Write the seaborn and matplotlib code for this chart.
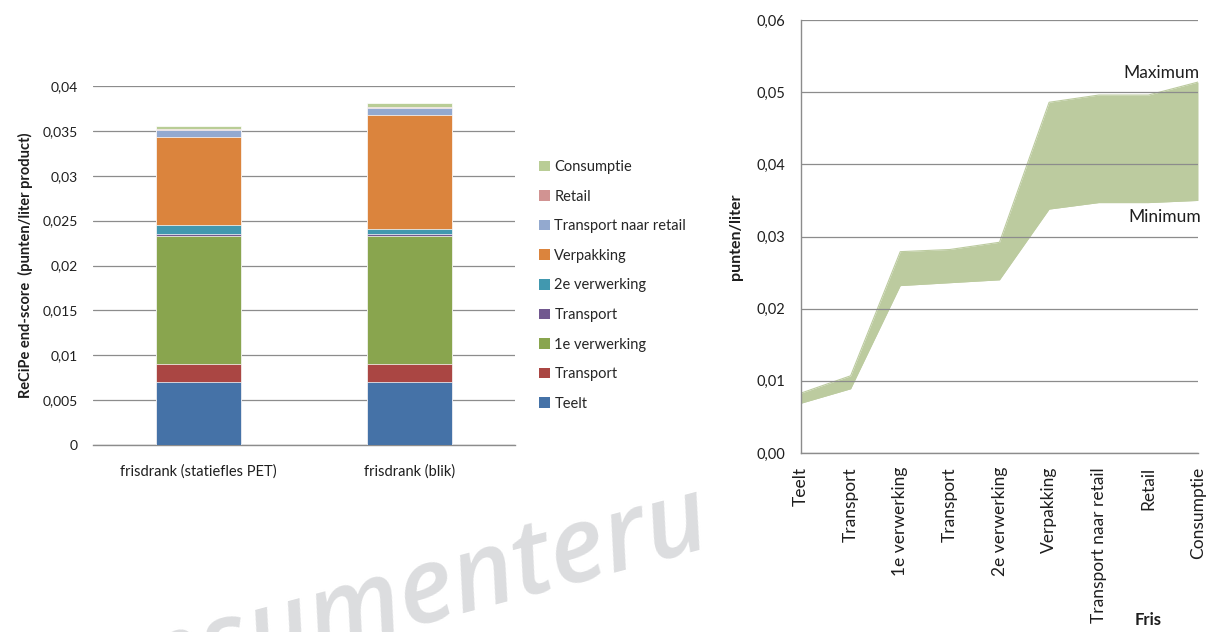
import numpy as np
import pandas as pd
import matplotlib
matplotlib.use("Agg")
import matplotlib.pyplot as plt
from matplotlib.patches import Patch
import seaborn as sns

# ---------------- data ----------------
products = ["frisdrank (statiefles PET)", "frisdrank (blik)"]
stage_labels = ["Teelt", "Transport", "1e verwerking", "Transport", "2e verwerking",
                "Verpakking", "Transport naar retail", "Retail", "Consumptie"]
teelt = [0.0070, 0.0070]
transport_1 = [0.0020, 0.0020]
verwerking_1 = [0.0143, 0.0143]
transport_2 = [0.00025, 0.00025]
verwerking_2 = [0.0010, 0.0005]
verpakking = [0.0098, 0.0127]
transport_retail = [0.00074, 0.00085]
retail = [0.0001, 0.0001]
consumptie = [0.0004, 0.0004]
stage_colors = ["#4572A7", "#AA4643", "#89A54E", "#71588F", "#4198AF",
                "#DB843D", "#93A9CF", "#D19392", "#B9CD96"]

fris_stages = ["Teelt", "Transport", "1e verwerking", "Transport", "2e verwerking",
               "Verpakking", "Transport naar retail", "Retail", "Consumptie"]
fris_min = [0.0069, 0.0089, 0.0232, 0.0236, 0.0240, 0.0338, 0.0347, 0.0347, 0.0350]
fris_max = [0.0083, 0.0107, 0.0279, 0.0282, 0.0292, 0.0486, 0.0496, 0.0496, 0.0514]

# ---------------- style ----------------
sns.set_theme(style="white")
plt.rcParams["font.family"] = ["Lato", "DejaVu Sans"]
W, H = 1209, 632
fig = plt.figure(figsize=(W / 100, H / 100), dpi=100)
fig.patch.set_facecolor("white")

def fx(px):
    return px / W

def fy(py):
    return 1 - py / H

# watermark
fig.text(fx(45), fy(724), "consumenteru", rotation=15, rotation_mode="anchor",
         ha="left", va="baseline", fontsize=76, color="#DCDDDF", style="italic",
         fontweight="semibold", family=["Open Sans", "DejaVu Sans"], zorder=0)

grid_c = "#8C8C8C"
axis_c = "#8C8C8C"
txt_c = "#1E1E1E"

# ---------------- left: stacked bars ----------------
ax1 = fig.add_axes([fx(93), fy(445), fx(515 - 93), (445 - 86) / H])
ax1.set_facecolor("none")
layers = [teelt, transport_1, verwerking_1, transport_2, verwerking_2,
          verpakking, transport_retail, retail, consumptie]
cum = np.cumsum(np.array(layers), axis=0)
for i in range(len(layers) - 1, -1, -1):
    df = pd.DataFrame({"product": products, "value": cum[i]})
    sns.barplot(data=df, x="product", y="value", order=products, color=stage_colors[i],
                saturation=1, width=0.4, edgecolor="white", linewidth=0.5, ax=ax1, zorder=3)

ax1.set_ylim(0, 0.04)
ax1.set_xlim(-0.5, 1.5)
yt = np.arange(0, 0.0401, 0.005)
ax1.set_yticks(yt)
ax1.set_yticklabels(["0" if v == 0 else f"{v:.3f}".rstrip("0").replace(".", ",") for v in yt],
                    fontsize=10, color=txt_c)
ax1.yaxis.grid(True, color=grid_c, linewidth=0.9)
ax1.set_axisbelow(True)
for s in ["top", "right", "left"]:
    ax1.spines[s].set_visible(False)
ax1.spines["bottom"].set_color(axis_c)
ax1.spines["bottom"].set_linewidth(1.0)
ax1.tick_params(axis="y", which="major", length=5, width=1, color=axis_c, direction="out", pad=6)
ax1.set_xticks([0, 1])
ax1.set_xticklabels(products, fontsize=10.5, color=txt_c)
ax1.set_xticks([-0.5, 0.5, 1.5], minor=True)
ax1.tick_params(axis="x", which="major", length=0, pad=14)
ax1.tick_params(axis="x", which="minor", length=5, width=1, color=axis_c, direction="out")
ax1.set_xlabel("")
ax1.set_ylabel("ReCiPe end-score  (punten/liter product)", fontsize=10.5, fontweight="bold",
               color=txt_c, labelpad=7)

handles = [Patch(facecolor=stage_colors[i], edgecolor="none") for i in range(8, -1, -1)]
labels = [stage_labels[i] for i in range(8, -1, -1)]
ax1.legend(handles, labels, loc="upper left", bbox_to_anchor=(fx(539), fy(160)),
           bbox_transform=fig.transFigure, frameon=False, fontsize=10.5,
           handlelength=0.75, handleheight=0.75, handletextpad=0.3, labelspacing=1.07,
           borderpad=0, borderaxespad=0)

# ---------------- right: range area ----------------
ax2 = fig.add_axes([fx(801), fy(453), fx(1198 - 801), (453 - 20) / H])
ax2.set_facecolor("none")
xpos = np.arange(len(fris_stages))
band = "#BCCB9F"
ax2.fill_between(xpos, fris_min, fris_max, color=band, linewidth=0, zorder=2)
sns.lineplot(x=xpos, y=fris_max, color=band, linewidth=0.8, ax=ax2, zorder=2)
sns.lineplot(x=xpos, y=fris_min, color=band, linewidth=0.8, ax=ax2, zorder=2)
ax2.set_xlim(0, len(fris_stages) - 1)
ax2.set_ylim(0, 0.06)
yt2 = np.arange(0, 0.0601, 0.01)
ax2.set_yticks(yt2)
ax2.set_yticklabels([f"{v:.2f}".replace(".", ",") for v in yt2], fontsize=10.5, color=txt_c)
ax2.yaxis.grid(True, color=grid_c, linewidth=0.9, zorder=3)
ax2.set_axisbelow(False)
for s in ["top", "right"]:
    ax2.spines[s].set_visible(False)
for s in ["left", "bottom"]:
    ax2.spines[s].set_color(axis_c)
    ax2.spines[s].set_linewidth(1.0)
ax2.set_xticks(xpos)
ax2.set_xticklabels(fris_stages, rotation=90, fontsize=12.5, color=txt_c)
ax2.tick_params(axis="x", length=5, width=1, color=axis_c, direction="out", pad=5)
ax2.tick_params(axis="y", length=5, width=1, color=axis_c, direction="out", pad=6)
ax2.set_xlabel("")
ax2.set_ylabel("punten/liter", fontsize=11.5, fontweight="bold", color=txt_c, labelpad=10)
ax2.text(7.27, 0.0527, "Maximum", ha="center", va="center", fontsize=12.5, color=txt_c)
ax2.text(7.34, 0.0327, "Minimum", ha="center", va="center", fontsize=12.5, color=txt_c)
fig.text(fx(1148), fy(620), "Fris", ha="center", va="center", fontsize=12,
         fontweight="bold", color=txt_c)

fig.savefig("out.png", dpi=100, facecolor="white")
